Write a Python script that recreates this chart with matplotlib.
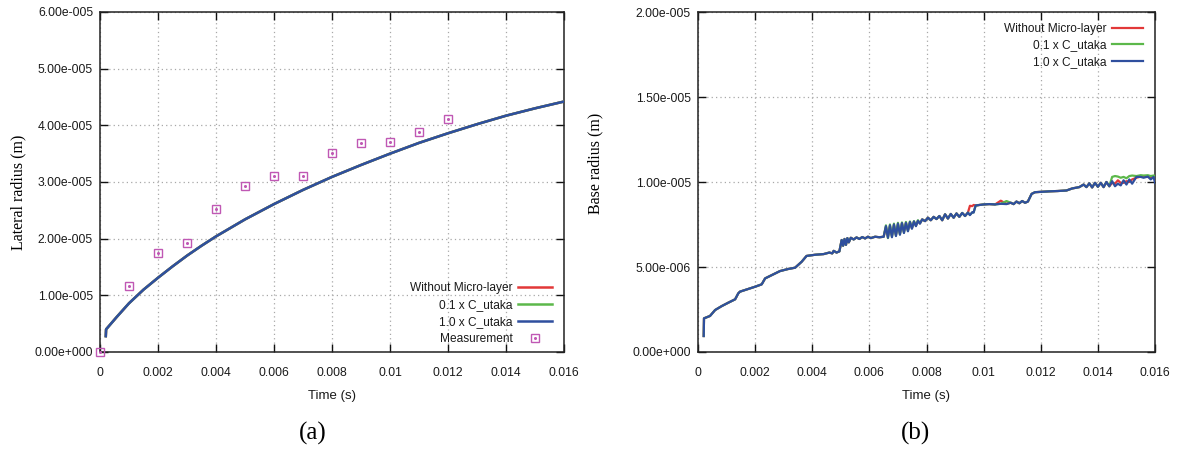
import matplotlib
matplotlib.use("Agg")
import matplotlib.pyplot as plt
from matplotlib import font_manager
from matplotlib.legend_handler import HandlerTuple
import numpy as np

# ---------------- data ----------------
x_ticks = [0, 0.002, 0.004, 0.006, 0.008, 0.01, 0.012, 0.014, 0.016]
x_tick_labels = ["0", "0.002", "0.004", "0.006", "0.008", "0.01", "0.012", "0.014", "0.016"]
lat_y_ticks = [0, 1e-5, 2e-5, 3e-5, 4e-5, 5e-5, 6e-5]
lat_y_tick_labels = ["0.00e+000", "1.00e-005", "2.00e-005", "3.00e-005",
                     "4.00e-005", "5.00e-005", "6.00e-005"]
base_y_ticks = [0, 5e-6, 1e-5, 1.5e-5, 2e-5]
base_y_tick_labels = ["0.00e+000", "5.00e-006", "1.00e-005", "1.50e-005", "2.00e-005"]

series_labels = ["Without Micro-layer", "0.1 x C_utaka", "1.0 x C_utaka"]
meas_label = "Measurement"

# (a) lateral radius, simulated (time in ms, radius in um) - all three cases coincide
lat_t_ms = [0.20, 0.21, 0.58, 1.0, 1.5, 2.0, 2.5, 3.0, 3.5, 4.0, 5.0, 6.0,
            7.0, 8.0, 9.0, 10.0, 11.0, 12.0, 13.0, 14.0, 15.0, 16.0]
lat_sim_um = [2.8, 4.0, 6.2, 8.6, 11.0, 13.1, 15.1, 17.0, 18.75, 20.4, 23.4, 26.1,
              28.6, 30.9, 33.0, 35.0, 36.9, 38.6, 40.2, 41.7, 43.0, 44.2]
# (a) measurement
meas_t_ms = [0, 1, 2, 3, 4, 5, 6, 7, 8, 9, 10, 11, 12]
meas_um = [0.0, 11.65, 17.4, 19.3, 25.3, 29.3, 31.1, 31.1, 35.1, 36.9, 37.1, 38.9, 41.1]

# (b) base radius (time in ms, radius in um)
base_t_ms = [
    0.20, 0.21, 0.42, 0.60, 0.83, 1.06, 1.30, 1.41, 1.47, 1.75,
    2.00, 2.23, 2.35, 2.52, 2.87, 3.15, 3.40, 3.63, 3.80, 4.10,
    4.40, 4.60, 4.70, 4.75, 4.85, 4.95, 5.03, 5.08, 5.13, 5.18,
    5.23, 5.28, 5.35, 5.45, 5.55, 5.65, 5.75, 5.85, 5.95, 6.05,
    6.20, 6.35, 6.50, 6.58, 6.65, 6.72, 6.79, 6.86, 6.93, 7.00,
    7.07, 7.14, 7.21, 7.28, 7.35, 7.42, 7.49, 7.56, 7.63, 7.70,
    7.77, 7.85, 7.95, 8.05, 8.15, 8.25, 8.35, 8.45, 8.55, 8.65,
    8.75, 8.85, 8.95, 9.05, 9.15, 9.25, 9.35, 9.45, 9.52, 9.60,
    9.65, 9.72, 9.85, 10.0, 10.2, 10.4, 10.6, 10.8, 10.95, 11.05,
    11.15, 11.25, 11.35, 11.45, 11.55, 11.68, 11.80, 12.0, 12.3, 12.6,
    12.9, 13.1, 13.35, 13.5, 13.6, 13.7, 13.8, 13.9, 14.0, 14.1,
    14.2, 14.3, 14.4, 14.5, 14.6, 14.7, 14.8, 14.9, 15.0, 15.1,
    15.2, 15.35, 15.5, 15.6, 15.75, 15.85, 15.95, 16.0]
base_red_um = [
    0.94, 1.98, 2.12, 2.47, 2.70, 2.90, 3.10, 3.45, 3.55, 3.70,
    3.84, 3.98, 4.33, 4.47, 4.76, 4.88, 4.96, 5.31, 5.65, 5.72,
    5.76, 5.85, 5.80, 5.95, 5.85, 5.92, 6.59, 6.25, 6.65, 6.30,
    6.70, 6.45, 6.72, 6.62, 6.74, 6.65, 6.76, 6.68, 6.78, 6.70,
    6.78, 6.75, 6.78, 7.35, 6.80, 7.40, 6.85, 7.45, 6.90, 7.50,
    6.98, 7.55, 7.08, 7.58, 7.18, 7.62, 7.30, 7.66, 7.45, 7.70,
    7.58, 7.80, 7.70, 7.90, 7.75, 7.95, 7.82, 8.00, 7.75, 8.10,
    7.85, 8.12, 7.90, 8.15, 7.95, 8.18, 8.00, 8.20, 8.60, 8.58,
    8.65, 8.62, 8.65, 8.68, 8.70, 8.68, 8.90, 8.72, 8.78, 8.70,
    8.85, 8.75, 8.88, 8.78, 8.85, 9.30, 9.40, 9.42, 9.45, 9.47,
    9.50, 9.62, 9.70, 9.85, 9.70, 9.92, 9.68, 9.95, 9.72, 9.95,
    9.70, 10.00, 9.75, 9.95, 9.90, 10.10, 9.95, 9.95, 10.05, 10.00,
    10.15, 10.25, 10.32, 10.30, 10.30, 10.25, 10.28, 10.20]
base_green_um = [
    0.94, 1.98, 2.12, 2.47, 2.70, 2.90, 3.10, 3.45, 3.55, 3.70,
    3.84, 3.98, 4.33, 4.47, 4.76, 4.88, 4.96, 5.31, 5.65, 5.72,
    5.76, 5.85, 5.80, 5.95, 5.85, 5.92, 6.59, 6.25, 6.65, 6.30,
    6.70, 6.45, 6.72, 6.62, 6.74, 6.65, 6.76, 6.68, 6.78, 6.70,
    6.78, 6.75, 6.78, 7.45, 6.70, 7.50, 6.78, 7.55, 6.85, 7.60,
    6.92, 7.62, 7.02, 7.65, 7.12, 7.68, 7.28, 7.70, 7.42, 7.75,
    7.57, 7.80, 7.70, 7.90, 7.75, 7.95, 7.82, 8.00, 7.75, 8.10,
    7.85, 8.12, 7.90, 8.15, 7.95, 8.18, 8.00, 8.20, 8.08, 8.20,
    8.22, 8.60, 8.65, 8.68, 8.70, 8.68, 8.72, 8.88, 8.78, 8.70,
    8.85, 8.75, 8.88, 8.78, 8.85, 9.30, 9.40, 9.42, 9.45, 9.47,
    9.50, 9.62, 9.70, 9.85, 9.70, 9.92, 9.68, 9.95, 9.72, 9.95,
    9.70, 10.00, 9.75, 10.30, 10.35, 10.32, 10.25, 10.30, 10.22, 10.35,
    10.38, 10.35, 10.40, 10.38, 10.40, 10.35, 10.38, 10.35]
base_blue_um = [
    0.94, 1.98, 2.12, 2.47, 2.70, 2.90, 3.10, 3.45, 3.55, 3.70,
    3.84, 3.98, 4.33, 4.47, 4.76, 4.88, 4.96, 5.31, 5.65, 5.72,
    5.76, 5.85, 5.80, 5.95, 5.85, 5.92, 6.59, 6.25, 6.65, 6.30,
    6.70, 6.45, 6.72, 6.62, 6.74, 6.65, 6.76, 6.68, 6.78, 6.70,
    6.78, 6.75, 6.78, 7.40, 6.72, 7.45, 6.75, 7.50, 6.82, 7.55,
    6.90, 7.58, 7.00, 7.60, 7.10, 7.65, 7.25, 7.68, 7.40, 7.72,
    7.55, 7.80, 7.70, 7.90, 7.75, 7.95, 7.82, 8.00, 7.75, 8.10,
    7.85, 8.12, 7.90, 8.15, 7.95, 8.18, 8.00, 8.20, 8.05, 8.22,
    8.20, 8.62, 8.65, 8.68, 8.70, 8.68, 8.72, 8.70, 8.78, 8.70,
    8.85, 8.75, 8.88, 8.78, 8.85, 9.30, 9.40, 9.42, 9.45, 9.47,
    9.50, 9.62, 9.70, 9.85, 9.70, 9.92, 9.68, 9.95, 9.72, 9.95,
    9.70, 10.00, 9.75, 10.05, 9.75, 9.90, 9.80, 10.10, 9.85, 10.15,
    9.90, 10.30, 10.30, 10.25, 10.32, 10.15, 10.30, 9.95]

# ---------------- style ----------------
def pick_font(cands):
    for c in cands:
        try:
            font_manager.findfont(font_manager.FontProperties(family=c), fallback_to_default=False)
            return c
        except Exception:
            pass
    return "DejaVu Sans"

SANS = pick_font(["Liberation Sans Narrow", "Liberation Sans", "DejaVu Sans"])
SERIF = pick_font(["Liberation Serif", "DejaVu Serif"])

RED = "#e23838"
GREEN = "#5cb84a"
BLUE = "#2f4f9e"
MAG = "#c058b4"
colors = [RED, GREEN, BLUE]

W, H = 1177, 454
fig = plt.figure(figsize=(W / 100, H / 100), dpi=100)
fig.patch.set_facecolor("white")

ax_a = fig.add_axes([100 / W, 1 - 352 / H, 464 / W, 340 / H])
ax_b = fig.add_axes([698 / W, 1 - 352 / H, 457 / W, 340 / H])

TICK_FS = 8.7
LEG_FS = 8.6


def style_axes(ax, yticks, yticklabels, ymax):
    ax.set_xlim(0, 0.016)
    ax.set_ylim(0, ymax)
    ax.set_xticks(x_ticks)
    ax.set_xticklabels(x_tick_labels, family=SANS, fontsize=TICK_FS, color="#1a1a1a")
    ax.set_yticks(yticks)
    ax.set_yticklabels(yticklabels, family=SANS, fontsize=TICK_FS, color="#1a1a1a")
    ax.tick_params(direction="in", length=6, width=1.0, top=True, right=True, color="#111111")
    ax.tick_params(axis="x", pad=11)
    ax.tick_params(axis="y", pad=5)
    ax.grid(True, color="#a8a8a8", linestyle=(0, (1, 2.5)), linewidth=0.9)
    ax.set_axisbelow(True)
    for s in ax.spines.values():
        s.set_linewidth(1.1)
        s.set_color("#222222")


# ---- (a) ----
style_axes(ax_a, lat_y_ticks, lat_y_tick_labels, 6e-5)
lat_t = np.array(lat_t_ms) * 1e-3
lat_v = np.array(lat_sim_um) * 1e-6
handles_a = []
for lab, col in zip(series_labels, colors):
    h, = ax_a.plot(lat_t, lat_v, color=col, lw=1.8, label=lab, zorder=3,
                   solid_joinstyle="round")
    handles_a.append(h)
mt = np.array(meas_t_ms) * 1e-3
mv = np.array(meas_um) * 1e-6
hm, = ax_a.plot(mt, mv, linestyle="none", marker="s", markersize=6, mfc="none",
                mec=MAG, mew=1.0, zorder=4, clip_on=False)
hd, = ax_a.plot(mt, mv, linestyle="none", marker="o", markersize=1.2, mfc=MAG,
                mec=MAG, zorder=4, clip_on=False)
leg_a = ax_a.legend(handles_a + [(hm, hd)], series_labels + [meas_label],
                    handler_map={tuple: HandlerTuple(ndivide=1, pad=0)},
                    loc="lower right", bbox_to_anchor=(0.99, 0.0), frameon=False,
                    markerfirst=False, prop={"family": SANS, "size": LEG_FS},
                    handlelength=2.9, handletextpad=0.4, labelspacing=0.42,
                    borderaxespad=0.2)
for t in leg_a.get_texts():
    t.set_color("#1a1a1a")
ax_a.set_ylabel("Lateral radius (m)", family=SERIF, fontsize=11.5)
ax_a.yaxis.set_label_coords(-0.158, 0.47)
ax_a.set_xlabel("Time (s)", family=SANS, fontsize=9.5, color="#1a1a1a")
ax_a.xaxis.set_label_coords(0.5, -0.128)
ax_a.xaxis.label.set_va("center")

# ---- (b) ----
style_axes(ax_b, base_y_ticks, base_y_tick_labels, 2e-5)
bt = np.array(base_t_ms) * 1e-3
handles_b = []
for lab, col, vals in zip(series_labels, colors, [base_red_um, base_green_um, base_blue_um]):
    h, = ax_b.plot(bt, np.array(vals) * 1e-6, color=col, lw=1.6, label=lab, zorder=3)
    handles_b.append(h)
leg_b = ax_b.legend(handles_b, series_labels, loc="upper right", bbox_to_anchor=(0.99, 0.989),
                    frameon=False, markerfirst=False, prop={"family": SANS, "size": LEG_FS},
                    handlelength=2.6, handletextpad=0.45, labelspacing=0.38,
                    borderaxespad=0.2)
for t in leg_b.get_texts():
    t.set_color("#1a1a1a")
ax_b.set_ylabel("Base radius (m)", family=SERIF, fontsize=11.5)
ax_b.yaxis.set_label_coords(-0.208, 0.556)
ax_b.set_xlabel("Time (s)", family=SANS, fontsize=9.5, color="#1a1a1a")
ax_b.xaxis.set_label_coords(0.5, -0.128)
ax_b.xaxis.label.set_va("center")

fig.text(313 / W, 1 - 433 / H, "(a)", family=SERIF, fontsize=18, ha="center", va="center")
fig.text(915 / W, 1 - 433 / H, "(b)", family=SERIF, fontsize=18, ha="center", va="center")

fig.savefig("out.png", dpi=100)
